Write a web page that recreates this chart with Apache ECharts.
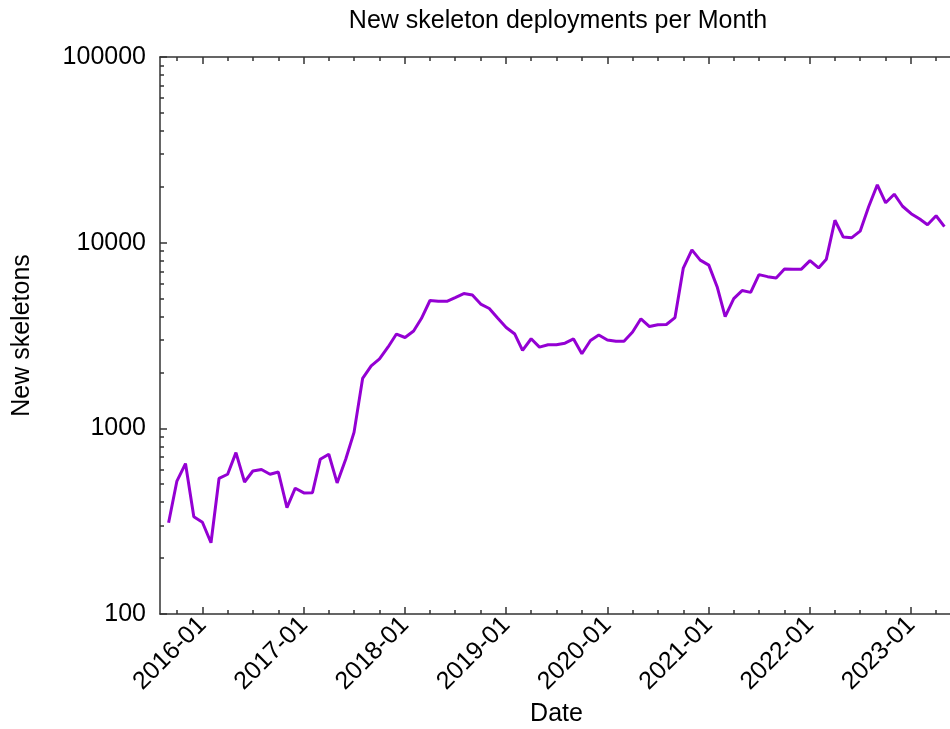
<!DOCTYPE html>
<html>
<head>
<meta charset="utf-8">
<title>New skeleton deployments per Month</title>
<script src="https://cdn.jsdelivr.net/npm/echarts@6/dist/echarts.min.js"></script>
<style>
  html, body { margin: 0; padding: 0; background: #ffffff; }
  #chart { width: 950px; height: 729px; }
</style>
</head>
<body>
<div id="chart"></div>
<script>
// Monthly counts of newly deployed skeletons, grouped by year.
// Each year's list starts at the month given in deploymentYears.
const deployments2015 = [310, 520, 646, 334];                                            // Sep–Dec
const deployments2016 = [312, 242, 537, 566, 740, 514, 589, 600, 566, 582, 374, 476];
const deployments2017 = [449, 450, 681, 725, 508, 681, 951, 1857, 2168, 2364, 2742, 3221];
const deployments2018 = [3085, 3344, 3901, 4880, 4835, 4835, 5062, 5318, 5222, 4670, 4420, 3927];
const deployments2019 = [3491, 3220, 2626, 3037, 2736, 2818, 2818, 2875, 3030, 2522, 2973, 3183];
const deployments2020 = [2992, 2946, 2946, 3302, 3890, 3534, 3610, 3624, 3950, 7300, 9140, 8050];
const deployments2021 = [7570, 5730, 4000, 5000, 5520, 5400, 6730, 6560, 6460, 7220, 7200, 7200];
const deployments2022 = [8000, 7310, 8150, 13200, 10730, 10640, 11530, 15650, 20500, 16400, 18240, 15710];
const deployments2023 = [14320, 13400, 12500, 13960, 12190];                              // Jan–May

const deploymentYears = [
  [2015, 9, deployments2015],
  [2016, 1, deployments2016],
  [2017, 1, deployments2017],
  [2018, 1, deployments2018],
  [2019, 1, deployments2019],
  [2020, 1, deployments2020],
  [2021, 1, deployments2021],
  [2022, 1, deployments2022],
  [2023, 1, deployments2023]
];

// Axis labels
const yearTicks = ['2016-01', '2017-01', '2018-01', '2019-01', '2020-01', '2021-01', '2022-01', '2023-01'];
const countTicks = [100, 1000, 10000, 100000];
const xRange = ['2015-08', '2023-06'];

const pad2 = n => String(n).padStart(2, '0');
// 'YYYY-MM' -> UTC timestamp of the first day of that month
const monthStart = s => Date.UTC(+s.slice(0, 4), +s.slice(5, 7) - 1, 1);
const monthLabel = t => {
  const d = new Date(t);
  return d.getUTCFullYear() + '-' + pad2(d.getUTCMonth() + 1);
};

const seriesData = [];
deploymentYears.forEach(([year, firstMonth, values]) => {
  values.forEach((v, i) => {
    seriesData.push([Date.UTC(year, firstMonth - 1 + i, 1), v]);
  });
});

// Tick positions: year starts (major) and quarter starts (minor)
const xMin = monthStart(xRange[0]);
const xMax = monthStart(xRange[1]);
const majorX = yearTicks.map(monthStart);
const minorX = [];
for (let y = 2015; y <= 2023; y++) {
  [4, 7, 10].forEach(m => {
    const t = Date.UTC(y, m - 1, 1);
    if (t > xMin && t < xMax) minorX.push(t);
  });
}
// Log-decade minor ticks (2..9 x 10^k), expressed in log10 space
const minorY = [];
for (let k = 2; k <= 4; k++) {
  for (let f = 2; f <= 9; f++) minorY.push(Math.log10(f * Math.pow(10, k)));
}

const FONT = 'Liberation Sans, Arial, Helvetica, sans-serif';
const AXIS_COLOR = '#333333';
const LABEL_SIZE = 25;

function xAxisBase(position) {
  return {
    type: 'value',
    position: position,
    min: xMin,
    max: xMax,
    splitLine: { show: false },
    axisLine: { show: false },
    axisLabel: { show: false },
    axisTick: { show: false },
    axisPointer: { show: false }
  };
}

const chart = echarts.init(document.getElementById('chart'), null, { renderer: 'canvas' });

chart.setOption({
  animation: false,
  backgroundColor: '#ffffff',
  textStyle: { fontFamily: FONT, color: '#000' },
  title: {
    text: 'New skeleton deployments per Month',
    left: 553,
    top: 4,
    textAlign: 'center',
    textStyle: { fontFamily: FONT, fontSize: 25, fontWeight: 'normal', color: '#000' }
  },
  grid: {
    left: 160, right: -3, top: 57, bottom: 115,
    containLabel: false,
    outerBoundsMode: 'none'
  },
  xAxis: [
    Object.assign(xAxisBase('bottom'), {
      name: 'Date',
      nameLocation: 'middle',
      nameGap: 87,
      nameTextStyle: { fontFamily: FONT, fontSize: LABEL_SIZE, color: '#000' },
      axisLine: { show: true, lineStyle: { color: AXIS_COLOR, width: 1.5 } },
      axisTick: { show: true, inside: true, length: 7, customValues: majorX,
                  lineStyle: { color: AXIS_COLOR, width: 1.5 } },
      axisLabel: {
        show: true, rotate: 45, margin: 7, customValues: majorX,
        fontFamily: FONT, fontSize: LABEL_SIZE, color: '#000',
        formatter: v => monthLabel(v)
      }
    }),
    Object.assign(xAxisBase('bottom'), {
      axisTick: { show: true, inside: true, length: 4, customValues: minorX,
                  lineStyle: { color: AXIS_COLOR, width: 1.5 } }
    }),
    Object.assign(xAxisBase('top'), {
      axisLine: { show: true, lineStyle: { color: AXIS_COLOR, width: 1.5 } },
      axisTick: { show: true, inside: true, length: 7, customValues: majorX,
                  lineStyle: { color: AXIS_COLOR, width: 1.5 } }
    }),
    Object.assign(xAxisBase('top'), {
      axisTick: { show: true, inside: true, length: 4, customValues: minorX,
                  lineStyle: { color: AXIS_COLOR, width: 1.5 } }
    })
  ],
  yAxis: [
    {
      type: 'log',
      logBase: 10,
      position: 'left',
      min: countTicks[0],
      max: countTicks[countTicks.length - 1],
      name: 'New skeletons',
      nameLocation: 'middle',
      nameGap: 125,
      nameTextStyle: { fontFamily: FONT, fontSize: LABEL_SIZE, color: '#000' },
      splitLine: { show: false },
      axisLine: { show: true, lineStyle: { color: AXIS_COLOR, width: 1.5 } },
      axisTick: { show: true, inside: true, length: 7, lineStyle: { color: AXIS_COLOR, width: 1.5 } },
      axisLabel: {
        show: true, margin: 14, fontFamily: FONT, fontSize: LABEL_SIZE, color: '#000',
        formatter: v => String(Math.round(v))
      },
      axisPointer: { show: false }
    },
    {
      type: 'value',
      position: 'left',
      min: 2,
      max: 5,
      splitLine: { show: false },
      axisLine: { show: false },
      axisLabel: { show: false },
      axisTick: { show: true, inside: true, length: 4, customValues: minorY,
                  lineStyle: { color: AXIS_COLOR, width: 1.5 } },
      axisPointer: { show: false }
    }
  ],
  series: [
    {
      name: 'New skeletons',
      type: 'line',
      xAxisIndex: 0,
      yAxisIndex: 0,
      data: seriesData,
      showSymbol: false,
      symbol: 'none',
      smooth: false,
      clip: true,
      lineStyle: { color: '#9400d3', width: 3 },
      itemStyle: { color: '#9400d3' }
    }
  ]
});
</script>
</body>
</html>
